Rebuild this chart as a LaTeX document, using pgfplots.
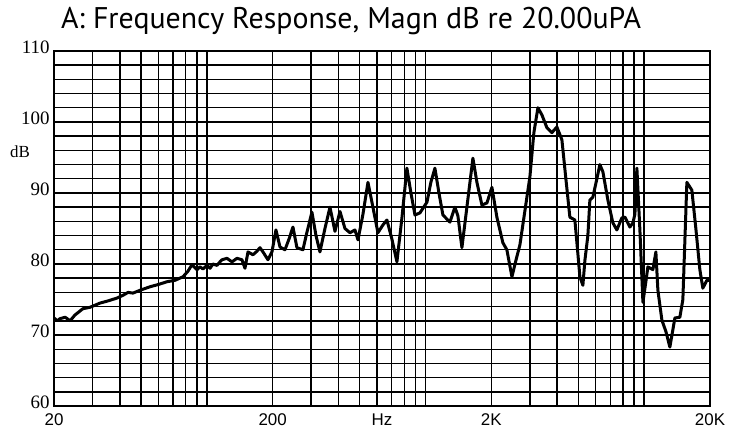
\documentclass[border=0pt]{standalone}
\usepackage{fontspec}
\setmainfont{Liberation Sans}
\newfontfamily\titlefont{PT Sans}
\newfontfamily\yfont{Liberation Serif}
\usepackage{pgfplots}
\pgfplotsset{compat=1.18}
\begin{document}
\begin{tikzpicture}
\useasboundingbox (-54bp,-37bp) rectangle (677bp,406bp);
\begin{axis}[
  at={(0,0)}, anchor=south west,
  scale only axis, width=656bp, height=355bp,
  xmode=log, xmin=20, xmax=20000, ymin=60, ymax=110,
  axis line style={black, line width=1.4bp},
  xtick={20,30,40,50,60,70,80,90,100,200,300,400,500,600,700,800,900,1000,2000,3000,4000,5000,6000,7000,8000,9000,10000,20000},
  xticklabels={},
  minor xtick={},
  extra x ticks={20,200,632,2000,20000},
  extra x tick labels={20,200,Hz,2K,20K},
  extra x tick style={grid=none, major tick length=0pt},
  ytick={60,70,80,90,100,110},
  minor ytick={62,64,66,68,72,74,76,78,82,84,86,88,92,94,96,98,102,104,106,108},
  xmajorgrids=true, ymajorgrids=true, yminorgrids=true,
  major grid style={black, line width=1.4bp},
  minor grid style={black, line width=1.4bp},
  major tick length=0pt, minor tick length=0pt,
  /pgf/number format/assume math mode=true,
  xticklabel style={font=\fontsize{17}{17}\selectfont, yshift=-4bp},
  yticklabel style={font=\yfont\fontsize{19}{19}\selectfont, xshift=-1bp, yshift=4bp},
]
\addplot[black, line width=3bp, line join=round] coordinates {
(20,72.4) (20.7,72.0) (21.3,72.3) (22.5,72.5) (23.7,72.0) (24.9,72.8)
(27.1,73.7) (29.2,73.9) (32.5,74.5) (35.3,74.8) (38.8,75.2) (41.4,75.6)
(43.6,76.0) (45.9,75.9) (49.5,76.3) (55.0,76.8) (59.8,77.1) (65.7,77.5)
(71.5,77.7) (77.8,78.2) (82.0,79.0) (85.5,79.9) (90.1,79.2) (93.0,79.6)
(96.0,79.3) (100.1,79.8) (103.4,79.4) (106.7,80.0) (111.3,79.8) (114.8,80.3)
(117.3,80.6) (123.6,80.8) (130.3,80.3) (137.3,80.8) (144.7,80.6) (149.4,79.4)
(154.2,81.7) (162.5,81.3) (169.5,81.8) (174.9,82.3) (180.6,81.7) (190.3,80.6)
(198.5,81.7) (207,84.8) (216,82.4) (227.6,82.0) (237.4,83.5) (247.6,85.2)
(258.2,82.3) (275,82.0) (287,84.5) (302.4,87.3) (315.6,84.0) (329,81.7)
(346.8,85.0) (365.6,88.0) (385.4,84.6) (406.2,87.4) (428.2,85.0) (451.4,84.4)
(475.6,84.8) (491,83.4) (517.4,87.0) (545.4,91.5) (574.8,88.0) (605.8,84.4)
(638.6,85.5) (666,86.2) (702,83.5) (740,80.3) (780,86.5) (822,93.5)
(857.6,90.0) (894.6,86.9) (943,87.2) (1015,88.7) (1058,91.5) (1104,93.5)
(1152,90.0) (1201,86.9) (1293,85.9) (1363,88.0) (1406,86.8) (1467,82.3)
(1546,88.0) (1647,94.9) (1718,91.5) (1811,88.3) (1909,88.6) (2012,90.8)
(2120,86.6) (2258,83.0) (2355,82.0) (2484,78.2) (2590,80.5) (2702,82.7)
(2848,87.5) (3002,92.3) (3130,98.5) (3266,102.0) (3406,101.0) (3590,99.2)
(3784,98.5) (3988,99.3) (4204,97.5) (4384,92.0) (4572,86.6) (4820,86.2)
(5082,78.2) (5244,77.0) (5356,80.5) (5526,84.0) (5644,89.0) (5824,89.4)
(6076,92.0) (6270,94.0) (6472,93.0) (6824,89.0) (7190,85.8) (7500,84.8)
(7906,86.5) (8162,86.6) (8604,85.2) (8878,85.8) (9068,87.0) (9260,93.5)
(9558,84.8) (9866,74.6) (10178,77.5) (10396,79.6) (10958,79.2) (11310,81.7)
(11552,76.3) (12048,72.1) (12566,70.5) (13106,68.3) (13816,72.4) (14560,72.5)
(15028,75.0) (15674,91.5) (16520,90.4) (17230,85.0) (17972,79.2) (18548,76.6)
(19348,77.7) (20000,77.7)
};
\end{axis}
\node[anchor=base, font=\titlefont\fontsize{30}{30}\selectfont] at (297bp,377bp) {A: Frequency Response, Magn dB re 20.00uPA};
\node[font=\yfont\fontsize{17}{17}\selectfont] at (-34bp,254bp) {dB};
\end{tikzpicture}
\end{document}
